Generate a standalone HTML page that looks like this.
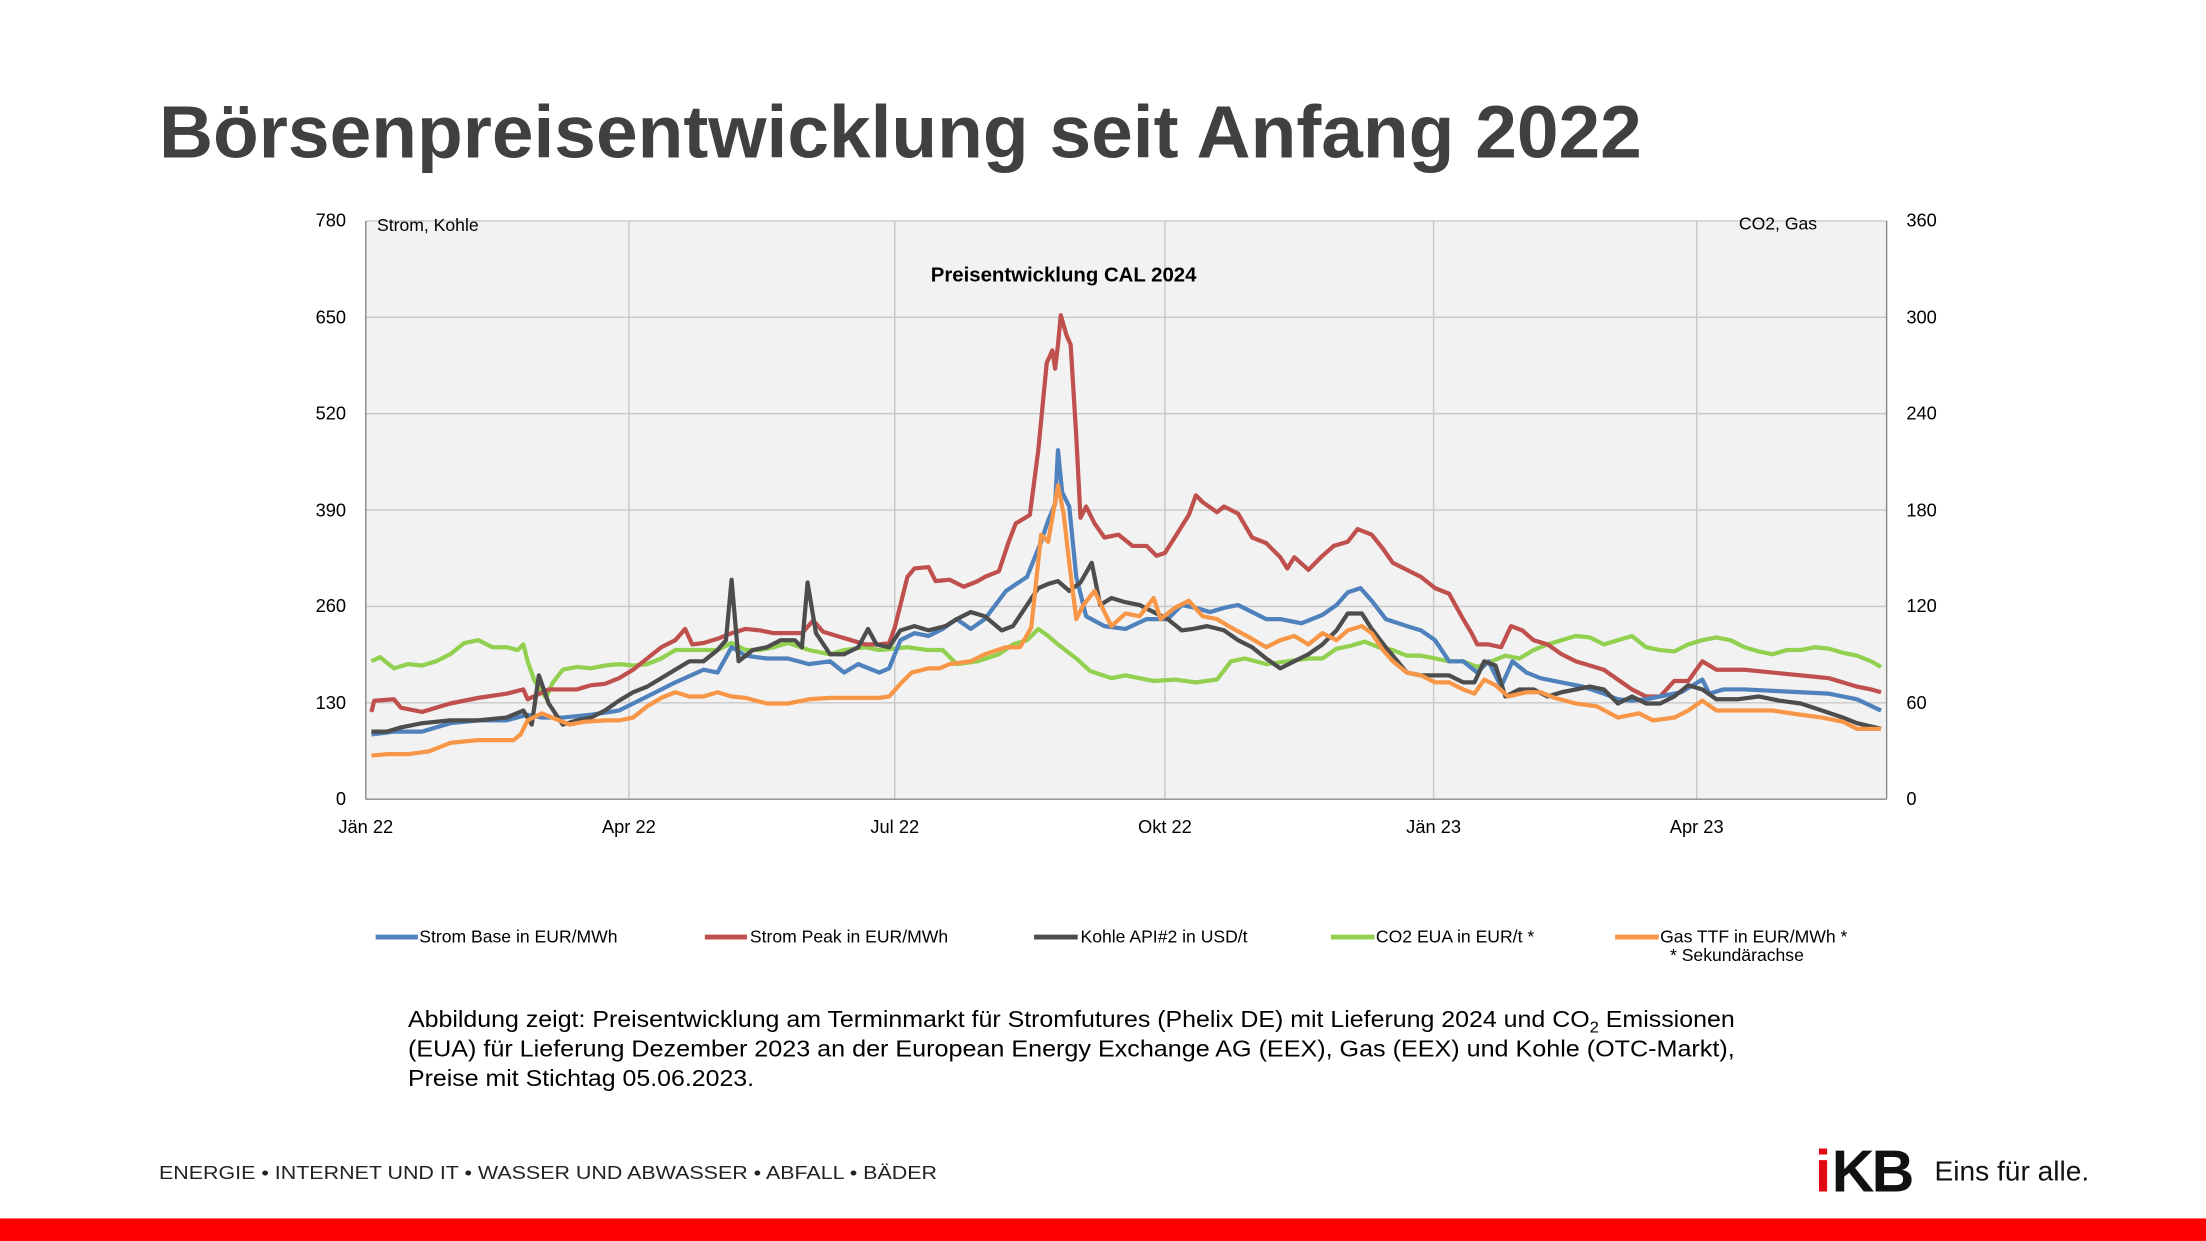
<!DOCTYPE html>
<html><head><meta charset="utf-8"><style>
html,body{margin:0;padding:0;background:#fff;}
svg{display:block;}
</style></head><body>
<svg width="2206" height="1241" viewBox="0 0 1568 882" xmlns="http://www.w3.org/2000/svg" font-family="Liberation Sans, sans-serif">
<rect width="1568" height="882" fill="#fff"/>
<text x="113" y="112" font-size="53" font-weight="bold" fill="#404040" textLength="1054" lengthAdjust="spacingAndGlyphs">Börsenpreisentwicklung seit Anfang 2022</text>
<rect x="260" y="157" width="1081" height="411" fill="#f2f2f2"/>
<g stroke="#c8c8c8" stroke-width="1">
<line x1="260" y1="157" x2="1341" y2="157"/><line x1="260" y1="225.5" x2="1341" y2="225.5"/><line x1="260" y1="294" x2="1341" y2="294"/><line x1="260" y1="362.5" x2="1341" y2="362.5"/><line x1="260" y1="431" x2="1341" y2="431"/><line x1="260" y1="499.5" x2="1341" y2="499.5"/>
<line x1="447" y1="157" x2="447" y2="568"/><line x1="636" y1="157" x2="636" y2="568"/><line x1="828" y1="157" x2="828" y2="568"/><line x1="1019" y1="157" x2="1019" y2="568"/><line x1="1206" y1="157" x2="1206" y2="568"/>
</g>
<g stroke="#888" stroke-width="1">
<line x1="260" y1="157" x2="260" y2="568"/><line x1="1341" y1="157" x2="1341" y2="568"/><line x1="260" y1="568" x2="1341" y2="568"/>
</g>
<g font-size="13" fill="#000" text-anchor="end">
<text x="246" y="161">780</text><text x="246" y="230">650</text><text x="246" y="298">520</text><text x="246" y="367">390</text><text x="246" y="435">260</text><text x="246" y="504">130</text><text x="246" y="572">0</text>
</g>
<g font-size="13" fill="#000">
<text x="1355" y="161">360</text><text x="1355" y="230">300</text><text x="1355" y="298">240</text><text x="1355" y="367">180</text><text x="1355" y="435">120</text><text x="1355" y="504">60</text><text x="1355" y="572">0</text>
</g>
<g font-size="13" fill="#000" text-anchor="middle">
<text x="260" y="592">Jän 22</text><text x="447" y="592">Apr 22</text><text x="636" y="592">Jul 22</text><text x="828" y="592">Okt 22</text><text x="1019" y="592">Jän 23</text><text x="1206" y="592">Apr 23</text>
</g>
<text x="268" y="164" font-size="12.5">Strom, Kohle</text>
<text x="1236" y="163" font-size="12.5">CO2, Gas</text>
<text x="756" y="200" font-size="14.5" font-weight="bold" text-anchor="middle">Preisentwicklung CAL 2024</text>
<g fill="none" stroke-width="3" stroke-linejoin="round">
<polyline stroke="#92d050" points="264,470 270,467 280,475 290,472 300,473 310,470 320,465 330,457 340,455 350,460 360,460 368,462 372,458 375,470 380,484 388,496 393,485 400,476 410,474 420,475 430,473 440,472 450,473 460,472 470,468 480,462 490,462 500,462 510,462 520,457 530,462 540,462 550,460 560,457 575,462 590,465 600,462 615,460 625,462 635,461 645,460 660,462 670,462 680,472 695,470 710,465 720,458 730,455 738,447 745,452 752,458 765,468 775,477 790,482 800,480 810,482 820,484 835,483 850,485 865,483 875,470 885,468 900,472 915,470 930,468 940,468 950,461 960,459 970,456 980,460 990,462 1000,466 1010,466 1020,468 1030,470 1040,470 1050,474 1060,470 1070,466 1080,468 1090,462 1100,458 1110,455 1120,452 1130,453 1140,458 1150,455 1160,452 1170,460 1180,462 1190,463 1200,458 1210,455 1220,453 1230,455 1240,460 1250,463 1260,465 1270,462 1280,462 1290,460 1300,461 1310,464 1320,466 1330,470 1337,474"/>
<polyline stroke="#c0504d" points="264,506 266,498 280,497 285,503 300,506 320,500 340,496 360,493 372,490 375,497 390,490 410,490 420,487 430,486 440,482 450,476 460,468 470,460 480,455 487,447 492,458 500,457 510,454 520,450 530,447 540,448 550,450 560,450 570,450 578,441 585,449 595,452 605,455 615,458 625,458 632,457 636,446 645,410 650,404 660,403 665,413 675,412 685,417 695,413 700,410 710,406 717,385 722,372 732,366 738,320 744,258 748,249 750,262 752,245 754,224 758,238 761,245 765,310 768,368 772,360 778,372 785,382 795,380 805,388 815,388 822,395 828,393 835,382 845,366 850,352 855,357 865,364 870,360 880,365 890,382 900,386 910,396 915,404 920,396 930,405 940,395 948,388 958,385 965,376 975,380 983,390 990,400 1000,405 1010,410 1020,418 1030,422 1040,440 1046,450 1050,458 1058,458 1067,460 1074,445 1082,448 1090,455 1100,458 1110,465 1120,470 1130,473 1140,476 1150,483 1160,490 1170,495 1180,495 1190,484 1200,484 1210,470 1220,476 1240,476 1260,478 1280,480 1300,482 1320,488 1330,490 1337,492"/>
<polyline stroke="#4f81bd" points="264,522 280,520 300,520 320,514 340,512 360,512 375,508 385,510 400,510 420,508 440,505 460,495 480,485 500,476 510,478 520,460 530,466 545,468 560,468 575,472 590,470 600,478 610,472 625,478 632,475 640,455 650,450 660,452 670,447 680,440 690,447 700,440 715,420 730,410 740,385 745,370 750,358 752,320 755,350 760,360 765,410 772,438 785,445 800,447 815,440 830,440 840,430 850,432 860,435 870,432 880,430 890,435 900,440 910,440 925,443 940,437 950,430 958,421 967,418 975,427 985,440 1000,445 1010,448 1020,455 1030,470 1040,470 1050,478 1058,470 1067,488 1075,470 1085,478 1095,482 1110,485 1125,488 1140,493 1150,497 1160,498 1170,497 1180,495 1195,492 1210,483 1215,493 1225,490 1240,490 1260,491 1280,492 1300,493 1320,497 1337,505"/>
<polyline stroke="#4d4d4d" points="264,520 275,520 285,517 300,514 320,512 340,512 360,510 372,505 378,515 383,480 390,500 400,515 410,512 420,510 430,505 440,498 450,492 460,488 470,482 480,476 490,470 500,470 510,462 516,455 520,412 525,470 535,462 545,460 555,455 565,455 570,460 574,414 580,450 590,465 600,465 610,460 617,447 623,458 632,460 640,448 650,445 660,448 672,445 680,440 690,435 700,438 712,448 720,445 730,430 738,418 745,415 752,413 760,420 768,414 776,400 782,430 790,425 800,428 810,430 820,435 830,440 840,448 848,447 858,445 870,448 880,455 890,460 900,468 910,475 920,470 930,465 940,458 950,448 958,436 968,436 975,447 985,460 1000,478 1010,480 1020,480 1030,480 1040,485 1048,485 1055,470 1063,473 1070,495 1080,490 1090,490 1100,495 1110,492 1120,490 1130,488 1140,490 1150,500 1160,495 1170,500 1180,500 1190,495 1200,487 1210,490 1220,497 1235,497 1250,495 1265,498 1280,500 1295,505 1310,510 1320,514 1337,518"/>
<polyline stroke="#f79646" points="264,537 275,536 290,536 305,534 320,528 340,526 355,526 365,526 370,522 375,512 385,507 395,511 405,515 415,513 430,512 440,512 450,510 460,502 470,496 480,492 490,495 500,495 510,492 520,495 530,496 545,500 560,500 575,497 590,496 600,496 615,496 625,496 632,495 640,486 648,478 660,475 668,475 675,472 690,470 700,465 715,460 725,460 733,446 740,380 745,385 752,345 756,365 760,400 765,440 770,430 778,420 785,435 790,445 800,436 810,438 820,425 825,440 835,432 845,427 855,438 865,440 875,446 888,453 900,460 910,455 920,452 930,458 940,450 950,455 958,448 968,445 975,450 983,462 990,470 1000,478 1010,480 1020,485 1030,485 1040,490 1048,493 1055,483 1063,487 1072,495 1085,492 1095,492 1105,496 1120,500 1135,502 1150,510 1165,507 1175,512 1190,510 1200,505 1210,498 1220,505 1240,505 1260,505 1280,508 1295,510 1310,513 1320,518 1337,518"/>
</g>
<g stroke-width="3.5">
<line x1="267" y1="666" x2="297" y2="666" stroke="#4f81bd"/>
<line x1="501" y1="666" x2="531" y2="666" stroke="#c0504d"/>
<line x1="735" y1="666" x2="766" y2="666" stroke="#4d4d4d"/>
<line x1="946" y1="666" x2="977" y2="666" stroke="#92d050"/>
<line x1="1148" y1="666" x2="1179" y2="666" stroke="#f79646"/>
</g>
<g font-size="12.5" fill="#000">
<text x="298" y="670">Strom Base in EUR/MWh</text>
<text x="533" y="670">Strom Peak in EUR/MWh</text>
<text x="768" y="670">Kohle API#2 in USD/t</text>
<text x="978" y="670">CO2 EUA in EUR/t *</text>
<text x="1180" y="670">Gas TTF in EUR/MWh *</text>
<text x="1187" y="683">* Sekundärachse</text>
</g>
<g font-size="16.5" fill="#000">
<text x="290" y="730" textLength="943" lengthAdjust="spacingAndGlyphs">Abbildung zeigt: Preisentwicklung am Terminmarkt für Stromfutures (Phelix DE) mit Lieferung 2024 und CO<tspan font-size="11" dy="4">2</tspan><tspan dy="-4"> Emissionen</tspan></text>
<text x="290" y="751" textLength="943" lengthAdjust="spacingAndGlyphs">(EUA) für Lieferung Dezember 2023 an der European Energy Exchange AG (EEX), Gas (EEX) und Kohle (OTC-Markt),</text>
<text x="290" y="772" textLength="246" lengthAdjust="spacingAndGlyphs">Preise mit Stichtag 05.06.2023.</text>
</g>
<text x="113" y="838" font-size="13" fill="#222" textLength="553" lengthAdjust="spacingAndGlyphs">ENERGIE • INTERNET UND IT • WASSER UND ABWASSER • ABFALL • BÄDER</text>
<text x="1290" y="847" font-size="42" font-weight="bold" fill="#e30613">i</text>
<text x="1302" y="847" font-size="42" font-weight="bold" fill="#111" letter-spacing="-2">KB</text>
<text x="1375" y="839" font-size="20" fill="#111">Eins für alle.</text>
<rect x="0" y="866" width="1568" height="16" fill="#ff0000"/>
</svg>
</body></html>
